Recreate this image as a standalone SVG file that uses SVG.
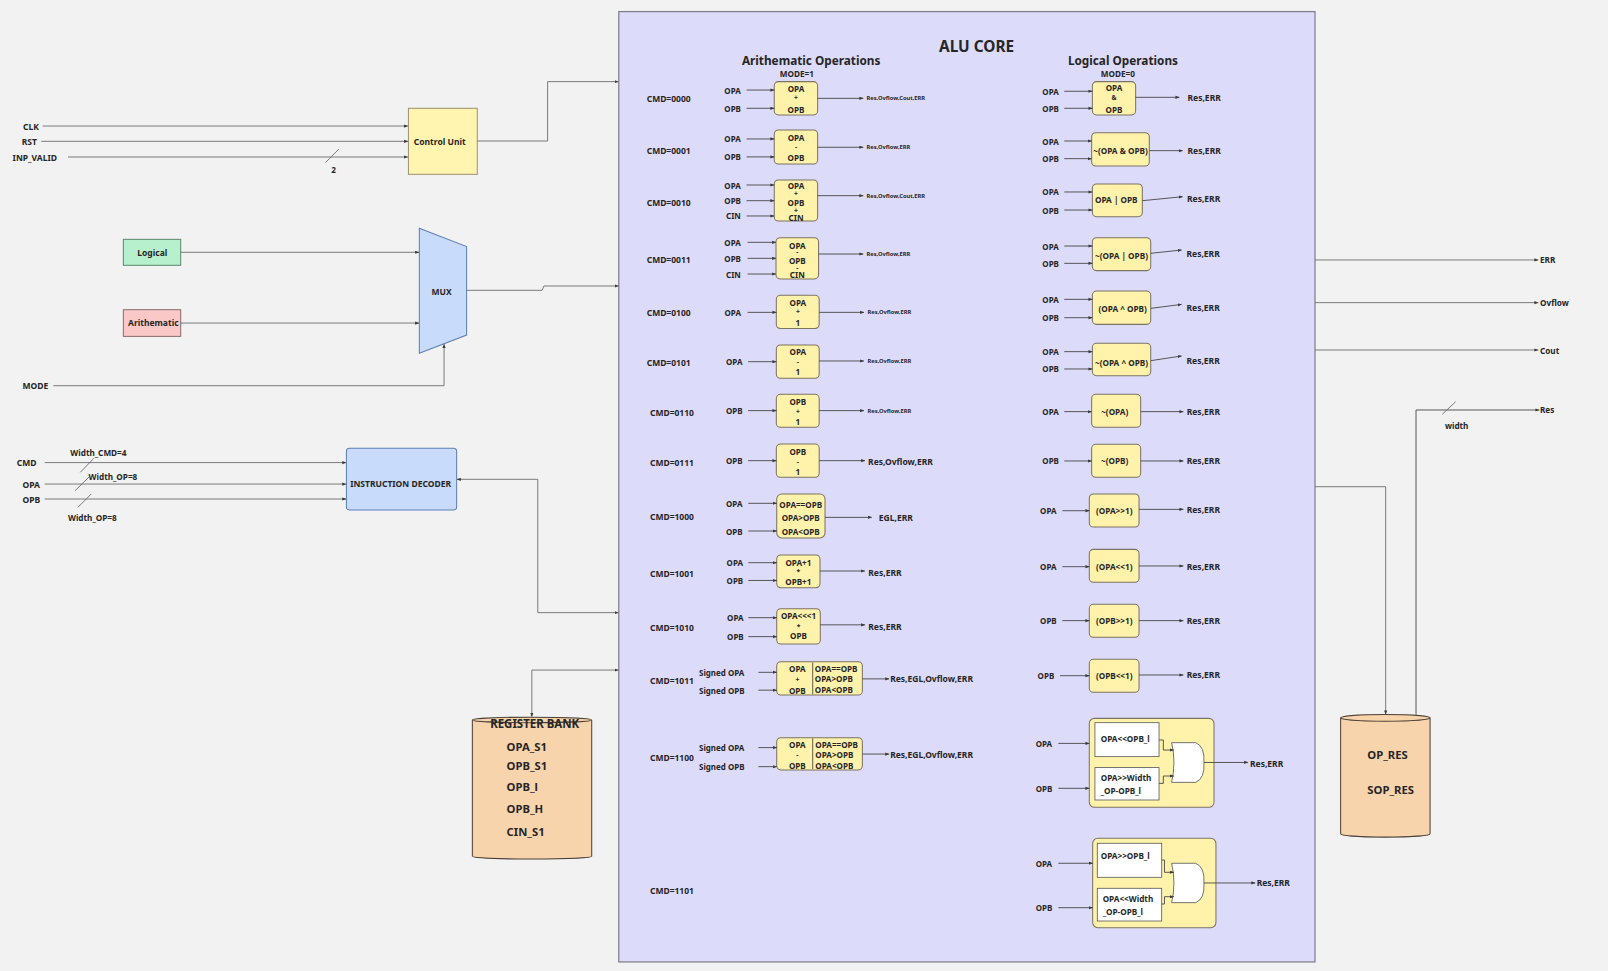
<svg xmlns="http://www.w3.org/2000/svg" width="1608" height="971" viewBox="0 0 1608 971">
<style>
text{font-family:"Noto Sans","Open Sans","Liberation Sans",sans-serif;font-weight:700;fill:#262626;}
.s{font-size:8.3px}
.b{font-size:7.9px}
.o{font-size:6.6px}
.i{font-size:7.8px}
.k{font-size:8px}
.m{text-anchor:middle}
.c{dominant-baseline:central}
.tiny{font-size:5.6px}
.op{fill:#fff2ab;stroke:#7b7363;stroke-width:1}
.inner{fill:#fff;stroke:#5a5a5a;stroke-width:0.8}
.gate{fill:#fff;stroke:#555;stroke-width:0.8}
.ln{fill:none;stroke:#4a4a4a;stroke-width:0.9}
.lo{fill:none;stroke:#707070;stroke-width:0.9}
.ar{marker-end:url(#ah)}
.bi{marker-start:url(#ahs);marker-end:url(#ah)}
.cyl{fill:#f8d4ad;stroke:#4d4036;stroke-width:1}
.big{font-size:11px}
</style>
<defs>
<marker id="ah" viewBox="0 0 6 6" refX="5.6" refY="3" markerWidth="4.5" markerHeight="4.5" orient="auto"><path d="M0,0.7 L6,3 L0,5.3 Z" fill="#3a3a3a"/></marker>
<marker id="ahs" viewBox="0 0 6 6" refX="5.6" refY="3" markerWidth="4.5" markerHeight="4.5" orient="auto-start-reverse"><path d="M0,0.7 L6,3 L0,5.3 Z" fill="#3a3a3a"/></marker>
</defs>
<rect width="1608" height="971" fill="#f2f2f2"/>
<g transform="scale(1.02551)">

<!-- ALU core container -->
<g id="alu-core">
<rect x="603.4" y="11.3" width="678.9" height="926.7" fill="#dddbfa" stroke="#7d7d8c" stroke-width="1.2"/>
<text x="952.3" y="45.5" class="m c" font-size="15">ALU CORE</text>
<text x="791" y="58.5" class="m c" font-size="11.5">Arithematic Operations</text>
<text x="777" y="71.5" class="m c k">MODE=1</text>
<text x="1095" y="58.5" class="m c" font-size="11.5">Logical Operations</text>
<text x="1090" y="71.5" class="m c k">MODE=0</text>
<g id="cmd-labels">
<text class="s c" x="630.6" y="95.9">CMD=0000</text>
<text class="s c" x="630.6" y="146.9">CMD=0001</text>
<text class="s c" x="630.6" y="197.3">CMD=0010</text>
<text class="s c" x="630.6" y="253">CMD=0011</text>
<text class="s c" x="630.6" y="305">CMD=0100</text>
<text class="s c" x="630.6" y="353.6">CMD=0101</text>
<text class="s c" x="633.8" y="402.4">CMD=0110</text>
<text class="s c" x="633.8" y="451">CMD=0111</text>
<text class="s c" x="633.8" y="504">CMD=1000</text>
<text class="s c" x="633.8" y="559.7">CMD=1001</text>
<text class="s c" x="633.8" y="612">CMD=1010</text>
<text class="s c" x="633.8" y="664">CMD=1011</text>
<text class="s c" x="633.8" y="738.8">CMD=1100</text>
<text class="s c" x="633.8" y="868.8">CMD=1101</text>
</g>
</g>

<!-- arithmetic operation blocks -->
<g id="op-0000"><rect class="op" x="755" y="79.6" width="42.3" height="32.5" rx="4"/>
<text class="b m c" x="776.2" y="86.1">OPA</text><text class="o m c" x="776.2" y="95">+</text><text class="b m c" x="776.2" y="106.6">OPB</text></g>
<g id="op-0001"><rect class="op" x="755" y="126.8" width="42.3" height="33.1" rx="4"/>
<text class="b m c" x="776.2" y="133.9">OPA</text><text class="o m c" x="776.2" y="142.5">-</text><text class="b m c" x="776.2" y="153.4">OPB</text></g>
<g id="op-0010"><rect class="op" x="755" y="175.5" width="42.3" height="40" rx="4"/>
<text class="b m c" x="776.2" y="181.1">OPA</text><text class="o m c" x="776.2" y="188.9">+</text><text class="b m c" x="776.2" y="197">OPB</text><text class="o m c" x="776.2" y="205">+</text><text class="b m c" x="776.2" y="212.3">CIN</text></g>
<g id="op-0011"><rect class="op" x="756.7" y="231.8" width="41.5" height="40.2" rx="4"/>
<text class="b m c" x="777.5" y="239">OPA</text><text class="o m c" x="777.5" y="245.5">-</text><text class="b m c" x="777.5" y="254">OPB</text><text class="o m c" x="777.5" y="260.5">-</text><text class="b m c" x="777.5" y="267.5">CIN</text></g>
<g id="op-0100"><rect class="op" x="757" y="288" width="41.8" height="32.3" rx="4"/>
<text class="b m c" x="778" y="295.4">OPA</text><text class="o m c" x="778" y="304">+</text><text class="b m c" x="778" y="314.5">1</text></g>
<g id="op-0101"><rect class="op" x="757" y="336.4" width="41.8" height="32.5" rx="4"/>
<text class="b m c" x="778" y="343.2">OPA</text><text class="o m c" x="778" y="352.5">-</text><text class="b m c" x="778" y="362.4">1</text></g>
<g id="op-0110"><rect class="op" x="757" y="384.5" width="41.8" height="32.2" rx="4"/>
<text class="b m c" x="778" y="391.7">OPB</text><text class="o m c" x="778" y="400.8">+</text><text class="b m c" x="778" y="411.2">1</text></g>
<g id="op-0111"><rect class="op" x="757" y="433" width="41.8" height="32.4" rx="4"/>
<text class="b m c" x="778" y="440.4">OPB</text><text class="o m c" x="778" y="449.8">-</text><text class="b m c" x="778" y="460">1</text></g>
<g id="op-1000"><rect class="op" x="757.4" y="481.7" width="47.1" height="42.9" rx="5"/>
<text class="b m c" x="780.8" y="491.5">OPA==OPB</text><text class="b m c" x="780.8" y="504.5">OPA&gt;OPB</text><text class="b m c" x="780.8" y="517.8">OPA&lt;OPB</text></g>
<g id="op-1001"><rect class="op" x="757.4" y="541.2" width="42.2" height="31.9" rx="4"/>
<text class="b m c" x="778.5" y="548.4">OPA+1</text><text class="o m c" x="778.5" y="557">*</text><text class="b m c" x="778.5" y="566.8">OPB+1</text></g>
<g id="op-1010"><rect class="op" x="757.4" y="593.5" width="42.5" height="34.5" rx="4"/>
<text class="b m c" x="778.6" y="600.5">OPA&lt;&lt;&lt;1</text><text class="o m c" x="778.6" y="610.5">*</text><text class="b m c" x="778.6" y="620">OPB</text></g>
<g id="op-1011"><rect class="op" x="757.4" y="645.2" width="83.5" height="32.5" rx="4"/>
<path d="M792.5,646V677" stroke="#3a3a3a" stroke-width="0.8"/>
<text class="b m c" x="777.5" y="651.7">OPA</text><text class="o m c" x="777.5" y="662.3">+</text><text class="b m c" x="777.5" y="673">OPB</text>
<text class="b c" x="794.5" y="651.7">OPA==OPB</text><text class="b c" x="794.5" y="662">OPA&gt;OPB</text><text class="b c" x="794.5" y="672.5">OPA&lt;OPB</text></g>
<g id="op-1100"><rect class="op" x="757.4" y="719.3" width="83.5" height="31.5" rx="4"/>
<path d="M792.5,720V750" stroke="#3a3a3a" stroke-width="0.8"/>
<text class="b m c" x="777.5" y="725.5">OPA</text><text class="o m c" x="777.5" y="735.5">-</text><text class="b m c" x="777.5" y="746">OPB</text>
<text class="b c" x="795" y="725.5">OPA==OPB</text><text class="b c" x="795" y="735.5">OPA&gt;OPB</text><text class="b c" x="795" y="746">OPA&lt;OPB</text></g>

<!-- logical operation blocks -->
<g id="lop-and"><rect class="op" x="1065.2" y="79.6" width="42.2" height="32.5" rx="4"/>
<text class="b m c" x="1086.3" y="85.2">OPA</text><text class="o m c" x="1086.3" y="95.2">&amp;</text><text class="b m c" x="1086.3" y="106.3">OPB</text></g>
<g id="lop-nand"><rect class="op" x="1064.5" y="129.4" width="56.2" height="32.5" rx="4"/>
<text class="k m c" x="1092.6" y="146.9">~(OPA &amp; OPB)</text></g>
<g id="lop-or"><rect class="op" x="1065.2" y="179.4" width="48.7" height="31.9" rx="4"/>
<text class="k m c" x="1088.5" y="194.4">OPA | OPB</text></g>
<g id="lop-nor"><rect class="op" x="1065.2" y="231.8" width="56.9" height="32.1" rx="4"/>
<text class="k m c" x="1093.6" y="249.6">~(OPA | OPB)</text></g>
<g id="lop-xor"><rect class="op" x="1065.2" y="283.8" width="56.9" height="32.5" rx="4"/>
<text class="k m c" x="1094.7" y="301">(OPA ^ OPB)</text></g>
<g id="lop-xnor"><rect class="op" x="1065.2" y="334.8" width="56.9" height="31.5" rx="4"/>
<text class="k m c" x="1093.6" y="353.3">~(OPA ^ OPB)</text></g>
<g id="lop-nota"><rect class="op" x="1064.5" y="384.5" width="47.8" height="32.2" rx="4"/>
<text class="k m c" x="1087" y="401.4">~(OPA)</text></g>
<g id="lop-notb"><rect class="op" x="1064.5" y="433.3" width="47.8" height="32.1" rx="4"/>
<text class="k m c" x="1087" y="449.5">~(OPB)</text></g>
<g id="lop-shra"><rect class="op" x="1062.2" y="481.7" width="48.5" height="32.2" rx="4"/>
<text class="k m c" x="1086.5" y="498">(OPA&gt;&gt;1)</text></g>
<g id="lop-shla"><rect class="op" x="1062.2" y="535.7" width="48.5" height="32.1" rx="4"/>
<text class="k m c" x="1086.5" y="552.6">(OPA&lt;&lt;1)</text></g>
<g id="lop-shrb"><rect class="op" x="1062.2" y="589.3" width="48.5" height="32.2" rx="4"/>
<text class="k m c" x="1086.5" y="605.2">(OPB&gt;&gt;1)</text></g>
<g id="lop-shlb"><rect class="op" x="1062.2" y="642.9" width="48.5" height="32.2" rx="4"/>
<text class="k m c" x="1086.5" y="658.9">(OPB&lt;&lt;1)</text></g>

<g id="lop-rol"><rect class="op" x="1062.2" y="700.5" width="121.6" height="86.7" rx="5"/>
<rect class="inner" x="1067.7" y="704.7" width="62.5" height="33.1"/>
<rect class="inner" x="1067.7" y="748.5" width="62.5" height="31.6"/>
<text class="k c" x="1073.3" y="720">OPA&lt;&lt;OPB_l</text>
<text class="k c" x="1073.3" y="758.3">OPA&gt;&gt;Width</text>
<text class="k c" x="1073.3" y="770.4">_OP-OPB_l</text>
<path class="gate" d="M1142.5,724.2H1166Q1175,728 1174,743.5Q1175,759 1166,762.9H1142.5Q1147,743.5 1142.5,724.2Z"/></g>
<g id="lop-ror"><rect class="op" x="1065.5" y="817.5" width="120.2" height="87.1" rx="5"/>
<rect class="inner" x="1070" y="822.3" width="62.8" height="33.2"/>
<rect class="inner" x="1070" y="866.2" width="62.8" height="31.9"/>
<text class="k c" x="1073.3" y="834.7">OPA&gt;&gt;OPB_l</text>
<text class="k c" x="1075.2" y="876.6">OPA&lt;&lt;Width</text>
<text class="k c" x="1075.2" y="888.7">_OP-OPB_l</text>
<path class="gate" d="M1142.5,841.8H1166Q1175,845.5 1174,861Q1175,876.5 1166,880.2H1142.5Q1147,861 1142.5,841.8Z"/></g>

<!-- external blocks -->
<g id="control-unit"><rect x="398.3" y="105.6" width="67.1" height="64.4" fill="#fff4b0" stroke="#9d9470" stroke-width="1"/>
<text class="s m c" x="428.8" y="137.5">Control Unit</text></g>
<g id="logical-src"><rect x="120.3" y="233.4" width="55.9" height="25.3" fill="#b6f0cd" stroke="#5d8a6c" stroke-width="1"/>
<text class="s m c" x="148.5" y="246.4">Logical</text></g>
<g id="arith-src"><rect x="120.3" y="302" width="55.9" height="26" fill="#fbc8c8" stroke="#8a6c6c" stroke-width="1"/>
<text class="s m c" x="149.5" y="314.7">Arithematic</text></g>
<g id="mux"><path d="M408.9,222.6L455,240.5V326.7L408.9,344.5Z" fill="#c8dbfa" stroke="#5d7fb5" stroke-width="1"/>
<text class="s m c" x="430.7" y="283.8">MUX</text></g>
<g id="instruction-decoder"><rect x="337.8" y="437.2" width="107.5" height="60.1" rx="3" fill="#c8dbfa" stroke="#5d7fb5" stroke-width="1"/>
<text class="s m c" x="390.6" y="471">INSTRUCTION DECODER</text></g>
<g id="register-bank">
<path class="cyl" d="M460.6,702A58.2,2.7 0 0 1 577,702V835A58.2,2.7 0 0 1 460.6,835Z"/>
<path d="M460.6,702A58.2,2.7 0 0 0 577,702" fill="none" stroke="#4d4036" stroke-width="1"/>
<text class="m c" x="521.4" y="705.3" font-size="11.2">REGISTER BANK</text>
<text class="c big" x="494" y="727.5">OPA_S1</text>
<text class="c big" x="494" y="746.6">OPB_S1</text>
<text class="c big" x="494" y="767">OPB_l</text>
<text class="c big" x="494" y="788.2">OPB_H</text>
<text class="c big" x="494" y="811">CIN_S1</text>
</g>
<g id="result-store">
<path class="cyl" d="M1307.3,700A43.6,3.3 0 0 1 1394.5,700V813A43.6,3.3 0 0 1 1307.3,813Z"/>
<path d="M1307.3,700A43.6,3.3 0 0 0 1394.5,700" fill="none" stroke="#4d4036" stroke-width="1"/>
<text class="c big" x="1333.3" y="736.2">OP_RES</text>
<text class="c big" x="1333.3" y="770.3">SOP_RES</text>
</g>

<!-- wiring -->
<g id="connectors">
<path class="lo ar" d="M41.6,122.9H397.8"/>
<path class="lo ar" d="M40.1,137.8H397.8"/>
<path class="lo ar" d="M66.3,153.1H397.8"/>
<path class="lo" d="M317.3,158.6L330.5,145.3"/>
<path class="lo ar" d="M465.4,137.5H534V79.6H603"/>
<path class="lo ar" d="M176.2,246H408.6"/>
<path class="lo ar" d="M176.2,315H408.6"/>
<path class="lo ar" d="M52,376.1H433V335.6"/>
<path class="lo ar" d="M455,283.1H528.6L530.4,278.9H603"/>
<path class="lo ar" d="M43.6,451.1H337.5"/>
<path class="lo" d="M78.3,460.6L91.4,447"/>
<path class="lo ar" d="M43.6,472H337.5"/>
<path class="lo" d="M73.2,478.5L87.1,464.8"/>
<path class="lo ar" d="M43.6,486.6H337.5"/>
<path class="lo" d="M76,494.7L89,481.7"/>
<path class="lo bi" d="M445.6,467.4H524.4V597.4H603"/>
<path class="lo bi" d="M603,653.4H518.6V698.8"/>
<path class="lo ar" d="M1282.3,253.5H1500"/>
<path class="lo ar" d="M1282.3,295.1H1500"/>
<path class="lo ar" d="M1282.3,341.3H1500"/>
<path class="lo ar" d="M1282.3,474.6H1351.2V696.5"/>
<path class="ln ar" d="M1380.8,696.8V399.8H1501"/>
<path class="lo" d="M1406.4,404L1419.4,391.7"/>

<!-- arithmetic column -->
<path class="ln ar" d="M728,87.8H755"/><path class="ln ar" d="M728,105.6H755"/><path class="ln ar" d="M797.3,95.9H841.8"/>
<path class="ln ar" d="M728,135.5H755"/><path class="ln ar" d="M728,153H755"/><path class="ln ar" d="M797.3,143.6H841.8"/>
<path class="ln ar" d="M728,180.4H755"/><path class="ln ar" d="M728,195.7H755"/><path class="ln ar" d="M728,210.6H755"/><path class="ln ar" d="M797.3,190.8H841.8"/>
<path class="ln ar" d="M729,236.3H756.7"/><path class="ln ar" d="M729,251.9H756.7"/><path class="ln ar" d="M729,267.2H756.7"/><path class="ln ar" d="M798.2,247.7H841.8"/>
<path class="ln ar" d="M729,304.6H757"/><path class="ln ar" d="M798.8,304.6H842.5"/>
<path class="ln ar" d="M729.5,352.7H757"/><path class="ln ar" d="M798.8,352H842.5"/>
<path class="ln ar" d="M729.5,400.4H757"/><path class="ln ar" d="M798.8,400.4H842.5"/>
<path class="ln ar" d="M729.5,449.2H757"/><path class="ln ar" d="M798.8,449.2H843.5"/>
<path class="ln ar" d="M729.7,490.8H757.4"/><path class="ln ar" d="M729.7,517.8H757.4"/><path class="ln ar" d="M804.5,504.5H850"/>
<path class="ln ar" d="M729.7,548.7H757.4"/><path class="ln ar" d="M729.7,566H757.4"/><path class="ln ar" d="M799.6,556.8H843.5"/>
<path class="ln ar" d="M729.7,602.3H757.4"/><path class="ln ar" d="M729.7,620.8H757.4"/><path class="ln ar" d="M799.9,609.3H843.5"/>
<path class="ln ar" d="M739.5,655.6H757.4"/><path class="ln ar" d="M739.5,673H757.4"/><path class="ln ar" d="M840.9,662H867"/>
<path class="ln ar" d="M739.5,729H757.4"/><path class="ln ar" d="M739.5,747.6H757.4"/><path class="ln ar" d="M840.9,735.3H867"/>

<!-- logical column -->
<path class="ln ar" d="M1037.8,89H1065.2"/><path class="ln ar" d="M1037.8,105.6H1065.2"/><path class="ln ar" d="M1107.4,94.9H1150"/>
<path class="ln ar" d="M1037.8,137.5H1064.5"/><path class="ln ar" d="M1037.8,154.7H1064.5"/><path class="ln ar" d="M1120.7,146.9H1153.2"/>
<path class="ln ar" d="M1037.8,187.2H1065.2"/><path class="ln ar" d="M1037.8,204.8H1065.2"/><path class="ln ar" d="M1113.9,195.7L1153.2,191.8"/>
<path class="ln ar" d="M1037.8,239.9H1065.2"/><path class="ln ar" d="M1037.8,256.8H1065.2"/><path class="ln ar" d="M1122.1,247L1152.2,243.8"/>
<path class="ln ar" d="M1037.8,291.9H1065.2"/><path class="ln ar" d="M1037.8,309.8H1065.2"/><path class="ln ar" d="M1122.1,300.7L1152.2,296.8"/>
<path class="ln ar" d="M1037.8,342.9H1065.2"/><path class="ln ar" d="M1037.8,359.8H1065.2"/><path class="ln ar" d="M1122.1,351.7L1152.2,347.1"/>
<path class="ln ar" d="M1037.8,401.4H1064.5"/><path class="ln ar" d="M1112.3,401.4H1153.9"/>
<path class="ln ar" d="M1037.8,449.5H1064.5"/><path class="ln ar" d="M1112.3,449.5H1153.9"/>
<path class="ln ar" d="M1035.9,498H1062.2"/><path class="ln ar" d="M1110.7,496.7H1153.9"/>
<path class="ln ar" d="M1035.9,552.6H1062.2"/><path class="ln ar" d="M1110.7,551.9H1153.9"/>
<path class="ln ar" d="M1035.9,605.2H1062.2"/><path class="ln ar" d="M1110.7,605.2H1153.9"/>
<path class="ln ar" d="M1033.6,658.9H1062.2"/><path class="ln ar" d="M1110.7,658.2H1153.9"/>
<path class="ln ar" d="M1032,724.9H1062.2"/><path class="ln ar" d="M1032,768.7H1062.2"/>
<path class="ln ar" d="M1130.2,721.6H1134.4V731.4H1144.6"/><path class="ln ar" d="M1130.2,763.9H1134.4V756.7H1144.6"/>
<path class="ln ar" d="M1174,743.5H1217"/>
<path class="ln ar" d="M1032,841.8H1065.5"/><path class="ln ar" d="M1032,885.1H1065.5"/>
<path class="ln ar" d="M1132.8,838.6H1135.5V850.6H1144.6"/><path class="ln ar" d="M1132.8,881.5H1135.5V874.4H1144.6"/>
<path class="ln ar" d="M1174,861H1224"/>
</g>

<!-- signal names -->
<g id="signal-labels">
<text class="s c" x="22.4" y="122.9">CLK</text>
<text class="s c" x="21.2" y="137.8">RST</text>
<text class="s c" x="12.3" y="153.1">INP_VALID</text>
<text class="k c" x="323" y="164.8">2</text>
<text class="s c" x="22" y="376.1">MODE</text>
<text class="s c" x="16.3" y="451.1">CMD</text>
<text class="s c" x="22" y="472">OPA</text>
<text class="s c" x="22" y="486.6">OPB</text>
<text class="k c" x="68.6" y="440.8">Width_CMD=4</text>
<text class="k c" x="86.4" y="464.8">Width_OP=8</text>
<text class="k c" x="66.3" y="505.1">Width_OP=8</text>
<text class="k c" x="1501.7" y="253.5">ERR</text>
<text class="k c" x="1501.7" y="295.1">Ovflow</text>
<text class="k c" x="1501.7" y="341.3">Cout</text>
<text class="k c" x="1501.7" y="399.8">Res</text>
<text class="k c" x="1409" y="415">width</text>

<text class="i c" x="706.3" y="87.8">OPA</text><text class="i c" x="706.3" y="105.6">OPB</text>
<text class="tiny c" x="845" y="95.9">Res,Ovflow,Cout,ERR</text>
<text class="i c" x="706.3" y="135.5">OPA</text><text class="i c" x="706.3" y="153">OPB</text>
<text class="tiny c" x="845" y="143.6">Res,Ovflow,ERR</text>
<text class="i c" x="706.3" y="180.4">OPA</text><text class="i c" x="706.3" y="195.7">OPB</text><text class="i c" x="708" y="210.6">CIN</text>
<text class="tiny c" x="845" y="190.8">Res,Ovflow,Cout,ERR</text>
<text class="i c" x="706.3" y="236.3">OPA</text><text class="i c" x="706.3" y="251.9">OPB</text><text class="i c" x="708" y="267.2">CIN</text>
<text class="tiny c" x="845" y="247.7">Res,Ovflow,ERR</text>
<text class="i c" x="706.5" y="304.6">OPA</text>
<text class="tiny c" x="846" y="304.6">Res,Ovflow,ERR</text>
<text class="i c" x="708" y="352.7">OPA</text>
<text class="tiny c" x="846" y="352">Res,Ovflow,ERR</text>
<text class="i c" x="708" y="400.4">OPB</text>
<text class="tiny c" x="846" y="400.4">Res,Ovflow,ERR</text>
<text class="i c" x="708" y="449.2">OPB</text>
<text class="s c" x="846.5" y="450.5">Res,Ovflow,ERR</text>
<text class="i c" x="708" y="490.8">OPA</text><text class="i c" x="708" y="517.8">OPB</text>
<text class="s c" x="857" y="504.5">EGL,ERR</text>
<text class="i c" x="708.5" y="548.7">OPA</text><text class="i c" x="708.5" y="566">OPB</text>
<text class="s c" x="846.7" y="558.5">Res,ERR</text>
<text class="i c" x="709" y="602.3">OPA</text><text class="i c" x="709" y="620.8">OPB</text>
<text class="s c" x="846.7" y="611">Res,ERR</text>
<text class="i c" x="681.6" y="655.6">Signed OPA</text><text class="i c" x="681.6" y="673">Signed OPB</text>
<text class="s c" x="868" y="662">Res,EGL,Ovflow,ERR</text>
<text class="i c" x="681.6" y="729">Signed OPA</text><text class="i c" x="681.6" y="747.6">Signed OPB</text>
<text class="s c" x="868" y="735.3">Res,EGL,Ovflow,ERR</text>

<text class="i c" x="1016.4" y="89">OPA</text><text class="i c" x="1016.4" y="105.6">OPB</text><text class="s c" x="1158" y="94.9">Res,ERR</text>
<text class="i c" x="1016.4" y="137.5">OPA</text><text class="i c" x="1016.4" y="154.7">OPB</text><text class="s c" x="1158" y="146.9">Res,ERR</text>
<text class="i c" x="1016.4" y="187.2">OPA</text><text class="i c" x="1016.4" y="204.8">OPB</text><text class="s c" x="1157.5" y="194">Res,ERR</text>
<text class="i c" x="1016.4" y="239.9">OPA</text><text class="i c" x="1016.4" y="256.8">OPB</text><text class="s c" x="1157" y="247">Res,ERR</text>
<text class="i c" x="1016.4" y="291.9">OPA</text><text class="i c" x="1016.4" y="309.8">OPB</text><text class="s c" x="1157" y="300">Res,ERR</text>
<text class="i c" x="1016.4" y="342.9">OPA</text><text class="i c" x="1016.4" y="359.8">OPB</text><text class="s c" x="1157" y="352">Res,ERR</text>
<text class="i c" x="1016.4" y="401.4">OPA</text><text class="s c" x="1157.2" y="401.4">Res,ERR</text>
<text class="i c" x="1016.4" y="449.5">OPB</text><text class="s c" x="1157.2" y="449.5">Res,ERR</text>
<text class="i c" x="1014.2" y="498">OPA</text><text class="s c" x="1157.2" y="496.4">Res,ERR</text>
<text class="i c" x="1014.2" y="552.6">OPA</text><text class="s c" x="1157.2" y="552.6">Res,ERR</text>
<text class="i c" x="1014.2" y="605.2">OPB</text><text class="s c" x="1157.2" y="605.2">Res,ERR</text>
<text class="i c" x="1011.8" y="658.9">OPB</text><text class="s c" x="1157.2" y="657.6">Res,ERR</text>
<text class="i c" x="1009.9" y="724.9">OPA</text><text class="i c" x="1009.9" y="768.7">OPB</text><text class="s c" x="1218.9" y="744.3">Res,ERR</text>
<text class="i c" x="1009.9" y="841.8">OPA</text><text class="i c" x="1009.9" y="885.1">OPB</text><text class="s c" x="1225.4" y="860.7">Res,ERR</text>
</g>
</g>
</svg>
